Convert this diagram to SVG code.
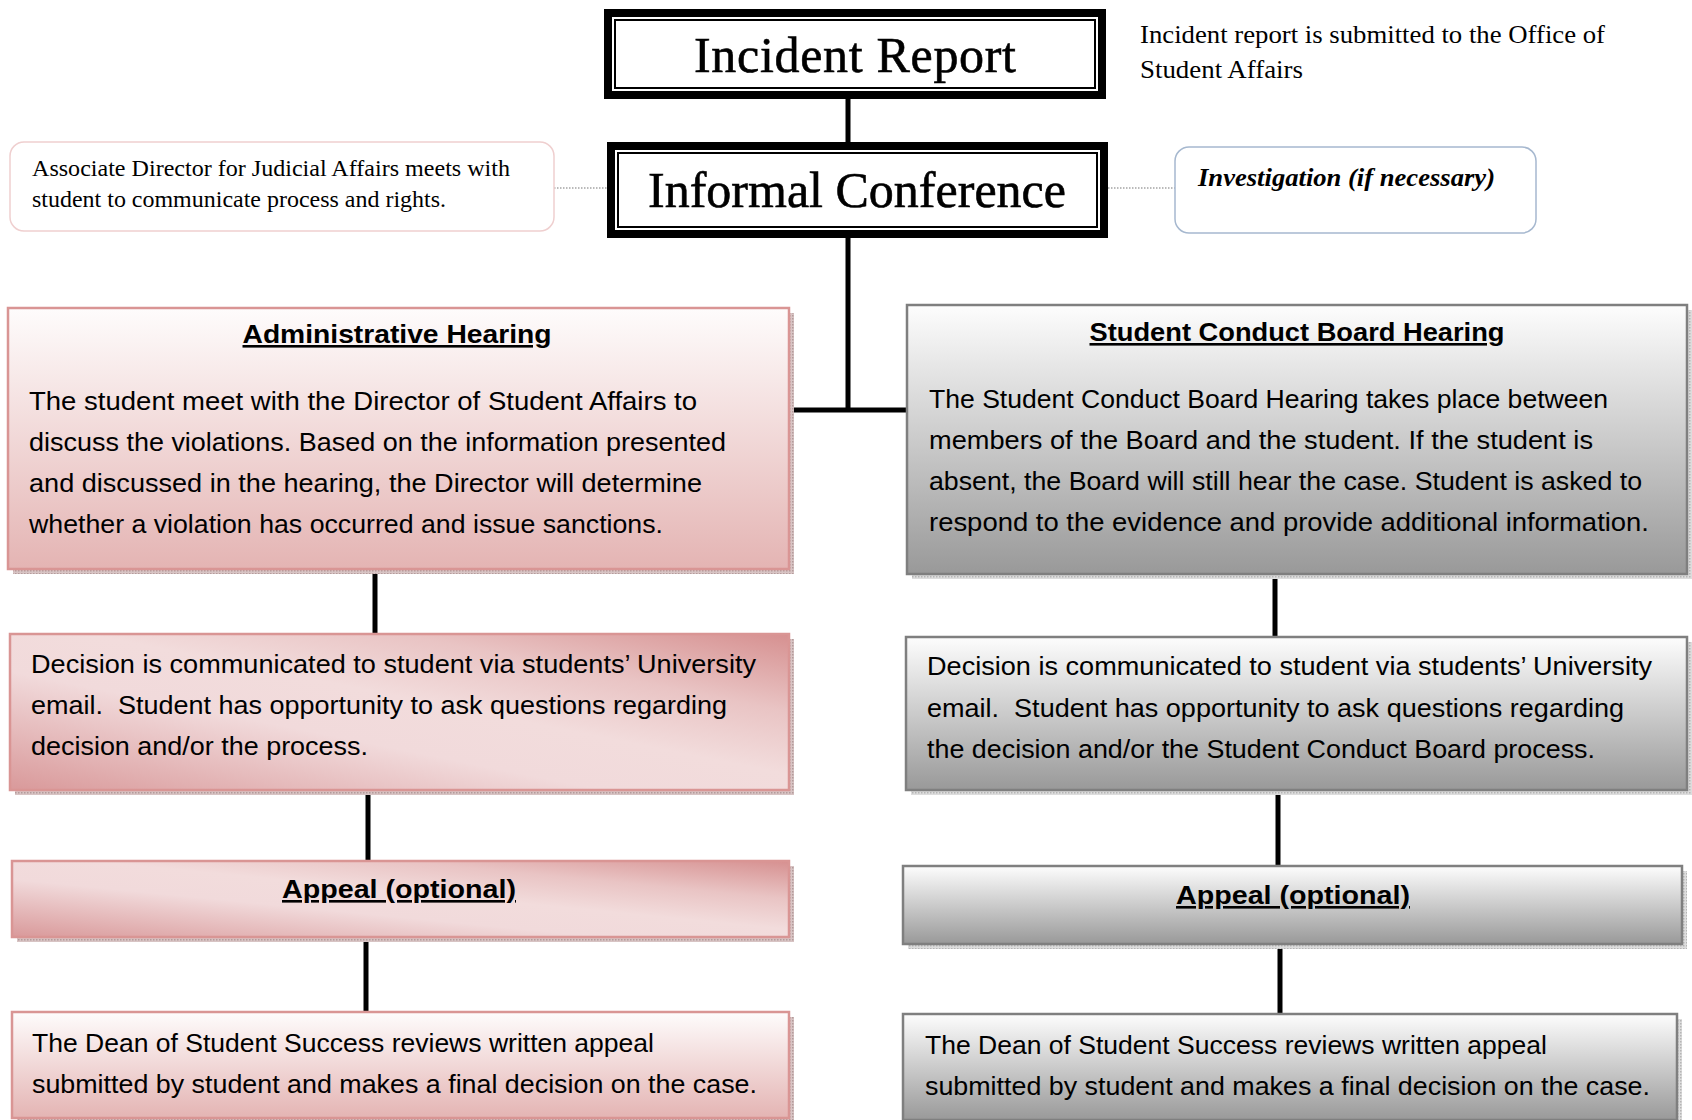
<svg xmlns="http://www.w3.org/2000/svg" width="1692" height="1120" viewBox="0 0 1692 1120">
<style>
.serif{font-family:"Liberation Serif","Times New Roman",serif;fill:#000}
.body{font-family:"Liberation Sans Narrow","Liberation Sans",Arial,sans-serif;font-size:25px;fill:#000}
.title{font-family:"Liberation Sans Narrow","Liberation Sans",Arial,sans-serif;font-size:26px;font-weight:bold;fill:#000;text-decoration:underline}
.conn{stroke:#000;stroke-width:5;fill:none}
.dot{stroke:#777;stroke-width:1.2;stroke-dasharray:1.5 1.5;fill:none}
.pinkS{stroke:#d99594;stroke-width:2.5}
.grayS{stroke:#7f7f7f;stroke-width:2.5}
</style>
<defs>
<linearGradient id="pv" x1="0" y1="0" x2="0" y2="1">
<stop offset="0" stop-color="#fefcfc"/><stop offset="1" stop-color="#e4b4b3"/>
</linearGradient>
<linearGradient id="pd" x1="0" y1="1" x2="1" y2="0">
<stop offset="0" stop-color="#d9999a"/><stop offset="0.38" stop-color="#f1dadb"/><stop offset="0.55" stop-color="#f2dcdc"/><stop offset="0.75" stop-color="#e9c4c4"/><stop offset="1" stop-color="#d69090"/>
</linearGradient>
<linearGradient id="gv" x1="0" y1="0" x2="0" y2="1">
<stop offset="0" stop-color="#fdfdfd"/><stop offset="1" stop-color="#999999"/>
</linearGradient>
<pattern id="shp" width="3" height="3" patternUnits="userSpaceOnUse">
<rect width="3" height="3" fill="#d8c4c4"/><rect width="1.5" height="1.5" fill="#b39b9b"/>
</pattern>
<pattern id="shg" width="3" height="3" patternUnits="userSpaceOnUse">
<rect width="3" height="3" fill="#dddddd"/><rect width="1.5" height="1.5" fill="#b5b5b5"/>
</pattern>
</defs>

<g id="connectors">
<line class="conn" x1="848" y1="99" x2="848" y2="142"/>
<line class="conn" x1="848" y1="238" x2="848" y2="410"/>
<line class="conn" x1="789" y1="410" x2="907" y2="410"/>
<line class="conn" x1="375" y1="569" x2="375" y2="634"/>
<line class="conn" x1="368" y1="790" x2="368" y2="861"/>
<line class="conn" x1="366" y1="937" x2="366" y2="1012"/>
<line class="conn" x1="1275" y1="574" x2="1275" y2="637"/>
<line class="conn" x1="1278" y1="790" x2="1278" y2="866"/>
<line class="conn" x1="1280" y1="944" x2="1280" y2="1014"/>
<line class="dot" x1="554" y1="188" x2="607" y2="188"/>
<line class="dot" x1="1108" y1="188" x2="1175" y2="188"/>
</g>

<g id="incident-report">
<rect x="604" y="9" width="502" height="90" fill="#000"/>
<rect x="612" y="17" width="486" height="74" fill="#fff"/>
<rect x="615" y="20" width="480" height="68" fill="#fff" stroke="#000" stroke-width="2"/>
<text class="serif" x="855" y="72" font-size="50" text-anchor="middle" textLength="322" stroke="#000" stroke-width="0.6">Incident Report</text>
</g>

<g id="incident-note">
<text class="serif" font-size="25"><tspan x="1140" y="43" textLength="465" lengthAdjust="spacingAndGlyphs">Incident report is submitted to the Office of</tspan><tspan x="1140" y="78" textLength="163" lengthAdjust="spacingAndGlyphs">Student Affairs</tspan></text>
</g>

<g id="informal-conference">
<rect x="607" y="142" width="501" height="96" fill="#000"/>
<rect x="615" y="150" width="485" height="80" fill="#fff"/>
<rect x="618" y="153" width="479" height="74" fill="#fff" stroke="#000" stroke-width="2"/>
<text class="serif" x="857" y="207" font-size="50" text-anchor="middle" textLength="418" stroke="#000" stroke-width="0.6">Informal Conference</text>
</g>

<g id="associate-director">
<rect x="10" y="142" width="544" height="89" rx="14" fill="#fff" stroke="#efcfcf" stroke-width="1.5"/>
<text class="serif" font-size="23"><tspan x="32" y="176" textLength="478" lengthAdjust="spacingAndGlyphs">Associate Director for Judicial Affairs meets with</tspan><tspan x="32" y="207" textLength="414" lengthAdjust="spacingAndGlyphs">student to communicate process and rights.</tspan></text>
</g>

<g id="investigation">
<rect x="1175" y="147" width="361" height="86" rx="14" fill="#fff" stroke="#a6b8cf" stroke-width="1.5"/>
<text class="serif" x="1198" y="186" font-size="25" font-weight="bold" font-style="italic" textLength="297" lengthAdjust="spacingAndGlyphs">Investigation (if necessary)</text>
</g>

<g id="administrative-hearing">
<rect x="13" y="313" width="781" height="261" fill="url(#shp)"/>
<rect class="pinkS" x="8" y="308" width="781" height="261" fill="url(#pv)"/>
<text class="title" x="397" y="343" text-anchor="middle" textLength="309" lengthAdjust="spacingAndGlyphs">Administrative Hearing</text>
<text class="body">
<tspan x="29" y="410" textLength="668" lengthAdjust="spacingAndGlyphs">The student meet with the Director of Student Affairs to</tspan>
<tspan x="29" y="451" textLength="697" lengthAdjust="spacingAndGlyphs">discuss the violations. Based on the information presented</tspan>
<tspan x="29" y="492" textLength="673" lengthAdjust="spacingAndGlyphs">and discussed in the hearing, the Director will determine</tspan>
<tspan x="29" y="533" textLength="634" lengthAdjust="spacingAndGlyphs">whether a violation has occurred and issue sanctions.</tspan>
</text>
</g>

<g id="student-conduct-board-hearing">
<rect x="912" y="310" width="780" height="269" fill="url(#shg)"/>
<rect class="grayS" x="907" y="305" width="780" height="269" fill="url(#gv)"/>
<text class="title" x="1297" y="341" text-anchor="middle" textLength="415" lengthAdjust="spacingAndGlyphs">Student Conduct Board Hearing</text>
<text class="body">
<tspan x="929" y="408" textLength="679" lengthAdjust="spacingAndGlyphs">The Student Conduct Board Hearing takes place between</tspan>
<tspan x="929" y="449" textLength="664" lengthAdjust="spacingAndGlyphs">members of the Board and the student. If the student is</tspan>
<tspan x="929" y="490" textLength="713" lengthAdjust="spacingAndGlyphs">absent, the Board will still hear the case. Student is asked to</tspan>
<tspan x="929" y="531" textLength="720" lengthAdjust="spacingAndGlyphs">respond to the evidence and provide additional information.</tspan>
</text>
</g>

<g id="decision-left">
<rect x="15" y="639" width="779" height="156" fill="url(#shp)"/>
<rect class="pinkS" x="10" y="634" width="779" height="156" fill="url(#pd)"/>
<text class="body">
<tspan x="31" y="673" textLength="725" lengthAdjust="spacingAndGlyphs">Decision is communicated to student via students’ University</tspan>
<tspan x="31" y="714" textLength="696" lengthAdjust="spacingAndGlyphs">email.&#160; Student has opportunity to ask questions regarding</tspan>
<tspan x="31" y="755" textLength="337" lengthAdjust="spacingAndGlyphs">decision and/or the process.</tspan>
</text>
</g>

<g id="decision-right">
<rect x="911" y="642" width="781" height="153" fill="url(#shg)"/>
<rect class="grayS" x="906" y="637" width="781" height="153" fill="url(#gv)"/>
<text class="body">
<tspan x="927" y="675" textLength="725" lengthAdjust="spacingAndGlyphs">Decision is communicated to student via students’ University</tspan>
<tspan x="927" y="717" textLength="697" lengthAdjust="spacingAndGlyphs">email.&#160; Student has opportunity to ask questions regarding</tspan>
<tspan x="927" y="758" textLength="668" lengthAdjust="spacingAndGlyphs">the decision and/or the Student Conduct Board process.</tspan>
</text>
</g>

<g id="appeal-left">
<rect x="17" y="866" width="777" height="76" fill="url(#shp)"/>
<rect class="pinkS" x="12" y="861" width="777" height="76" fill="url(#pd)"/>
<text class="title" x="399" y="898" text-anchor="middle" textLength="234" lengthAdjust="spacingAndGlyphs">Appeal (optional)</text>
</g>

<g id="appeal-right">
<rect x="908" y="871" width="779" height="78" fill="url(#shg)"/>
<rect class="grayS" x="903" y="866" width="779" height="78" fill="url(#gv)"/>
<text class="title" x="1293" y="904" text-anchor="middle" textLength="234" lengthAdjust="spacingAndGlyphs">Appeal (optional)</text>
</g>

<g id="dean-left">
<rect x="17" y="1017" width="777" height="106" fill="url(#shp)"/>
<rect class="pinkS" x="12" y="1012" width="777" height="106" fill="url(#pv)"/>
<text class="body">
<tspan x="32" y="1052" textLength="622" lengthAdjust="spacingAndGlyphs">The Dean of Student Success reviews written appeal</tspan>
<tspan x="32" y="1093" textLength="725" lengthAdjust="spacingAndGlyphs">submitted by student and makes a final decision on the case.</tspan>
</text>
</g>

<g id="dean-right">
<rect x="908" y="1019" width="774" height="106" fill="url(#shg)"/>
<rect class="grayS" x="903" y="1014" width="774" height="106" fill="url(#gv)"/>
<text class="body">
<tspan x="925" y="1054" textLength="622" lengthAdjust="spacingAndGlyphs">The Dean of Student Success reviews written appeal</tspan>
<tspan x="925" y="1095" textLength="725" lengthAdjust="spacingAndGlyphs">submitted by student and makes a final decision on the case.</tspan>
</text>
</g>
</svg>
